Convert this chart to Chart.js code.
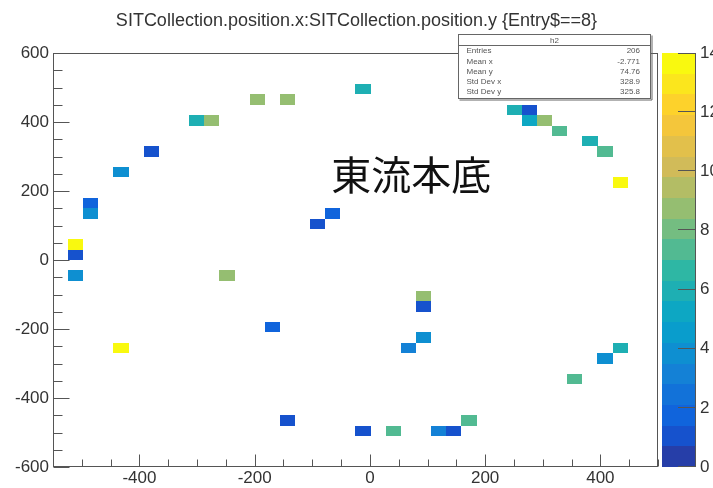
<!DOCTYPE html>
<html><head><meta charset="utf-8">
<script src="https://cdn.jsdelivr.net/npm/chart.js@4/dist/chart.umd.min.js"></script>
<style>html,body{margin:0;padding:0;background:#fff;overflow:hidden}#wrap{width:713px;height:488px}</style>
</head><body><div id="wrap"><canvas id="c" width="713" height="488"></canvas></div>
<script>
// ---- data (2D histogram, bin centres and counts) ----
const chartTitle = "SITCollection.position.x:SITCollection.position.y {Entry$==8}";
const overlayText = "東流本底";
const histName = "h2";
const cellX = [-510.6,-510.6,-510.6,-484.4,-484.4,-431.9,-379.4,-300.6,-274.4,-195.6,-143.1,-11.9,-90.6,-64.4,-248.1,
               250.6,276.9,276.9,303.1,329.4,381.9,408.1,434.4,93.1,93.1,93.1,66.9,-169.4,-431.9,-143.1,434.4,408.1,355.6,
               -11.9,40.6,119.4,145.6,171.9];
const cellY = [45,15,-45,165,135,255,315,405,405,465,465,495,105,135,-45,
               435,435,405,405,375,345,315,225,-105,-135,-225,-255,-195,-255,-465,-255,-285,-345,
               -495,-495,-495,-495,-465];
const cellCount = [14,1,4,2,4,4,1,6,9,9,9,6,1,2,9,
                   6,1,5,9,7,6,7,14,9,1,4,3,2,14,1,6,4,7,
                   1,7,3,1,7];
const xTickValues = [-400,-200,0,200,400];
const yTickValues = [-600,-400,-200,0,200,400,600];
const zTickValues = [0,2,4,6,8,10,12,14];
const statsLabels = ["Entries","Mean x","Mean y","Std Dev x","Std Dev y"];
const statsValues = ["206","-2.771","74.76","328.9","325.8"];
// histogram binning / axis ranges
const xRange = [-550, 500], yRange = [-600, 600], zRange = [0, 14];
const nBinsX = 40, nBinsY = 40, nContours = 20, minorStep = 50;

// ---- ROOT kBird palette ----
const stops = [0.0,0.125,0.25,0.375,0.5,0.625,0.75,0.875,1.0];
const pr = [0.2082,0.0592,0.0780,0.0232,0.1802,0.5301,0.8186,0.9956,0.9764];
const pg = [0.1664,0.3599,0.5041,0.6419,0.7178,0.7492,0.7328,0.7862,0.9832];
const pb = [0.5293,0.8684,0.8385,0.7914,0.6425,0.4662,0.3499,0.1968,0.0539];
const NCOL = 255;
function paletteColor(p){
  for(let g=1; g<stops.length; g++){
    const lo=Math.floor(NCOL*stops[g-1]), hi=Math.floor(NCOL*stops[g]);
    if(p<hi || g===stops.length-1){
      const f=(p-lo)/(hi-lo);
      const r=pr[g-1]+f*(pr[g]-pr[g-1]), gg=pg[g-1]+f*(pg[g]-pg[g-1]), b=pb[g-1]+f*(pb[g]-pb[g-1]);
      return `rgb(${Math.round(r*255)},${Math.round(gg*255)},${Math.round(b*255)})`;
    }
  }
}
function bandColor(k){
  let idx=Math.floor((k+0.99)*NCOL/nContours);
  if(idx>NCOL-1) idx=NCOL-1;
  return paletteColor(idx);
}
function valueColor(v){
  const k=Math.floor(0.01+(v-zRange[0])*nContours/(zRange[1]-zRange[0]));
  return bandColor(k);
}

const FONT = "'Liberation Sans', Arial, Helvetica, sans-serif";
const AX = '#555';
const bw = (xRange[1]-xRange[0])/nBinsX, bh = (yRange[1]-yRange[0])/nBinsY;

const rootPlugin = {
  id:'rootLook',
  beforeDatasetsDraw(chart){
    const {ctx, scales:{x,y}} = chart;
    ctx.save();
    for(let i=0;i<cellX.length;i++){
      const x0=Math.round(x.getPixelForValue(cellX[i]-bw/2)), x1=Math.round(x.getPixelForValue(cellX[i]+bw/2));
      const y0=Math.round(y.getPixelForValue(cellY[i]+bh/2)), y1=Math.round(y.getPixelForValue(cellY[i]-bh/2));
      ctx.fillStyle=valueColor(cellCount[i]);
      ctx.fillRect(x0,y0,x1-x0,y1-y0);
    }
    ctx.restore();
  },
  afterDraw(chart){
    const {ctx, chartArea:a, scales:{x,y,z}} = chart;
    ctx.save();
    // overlay text in data coordinates
    ctx.fillStyle='#111';
    ctx.font="40px 'Noto Sans CJK JP', 'Noto Sans CJK TC', sans-serif";
    ctx.textBaseline='middle'; ctx.textAlign='left';
    ctx.fillText(overlayText, x.getPixelForValue(-67), y.getPixelForValue(248));
    // frame
    ctx.strokeStyle=AX; ctx.lineWidth=1;
    const L=Math.round(a.left)+0.5, R=Math.round(a.right)-0.5, T=Math.round(a.top)+0.5, B=Math.round(a.bottom)-0.5;
    ctx.strokeRect(L,T,R-L,B-T);
    ctx.beginPath();
    for(let v=xRange[0]; v<=xRange[1]; v+=minorStep){
      const px=Math.round(x.getPixelForValue(v))+0.5;
      const len = xTickValues.includes(v)?12:7;
      ctx.moveTo(px,B); ctx.lineTo(px,B-len);
    }
    for(let v=yRange[0]; v<=yRange[1]; v+=minorStep){
      const py=Math.round(y.getPixelForValue(v))+0.5;
      const len = yTickValues.includes(v)?16:9;
      ctx.moveTo(L,py); ctx.lineTo(L+len,py);
    }
    ctx.stroke();
    // colour bar
    const cbL=Math.round(a.right)+4, cbR=Math.round(a.right)+38;
    const dz=(zRange[1]-zRange[0])/nContours;
    for(let k=0;k<nContours;k++){
      const p0=Math.round(z.getPixelForValue(zRange[0]+k*dz)), p1=Math.round(z.getPixelForValue(zRange[0]+(k+1)*dz));
      ctx.fillStyle=bandColor(k);
      ctx.fillRect(cbL,p1,cbR-cbL,p0-p1);
    }
    ctx.strokeStyle=AX;
    ctx.beginPath();
    ctx.moveTo(cbR-0.5, Math.round(z.getPixelForValue(zRange[0]))); ctx.lineTo(cbR-0.5, Math.round(z.getPixelForValue(zRange[1])));
    for(const v of zTickValues){
      const py=Math.round(z.getPixelForValue(v))+(v===zRange[1]?0.5:-0.5);
      ctx.moveTo(cbR,py); ctx.lineTo(cbR-18,py);
    }
    ctx.stroke();
    // stats box
    const sx0=458.5, sx1=650.5, sy0=34.5, sy1=98.5;
    ctx.fillStyle='#fff'; ctx.fillRect(sx0,sy0,sx1-sx0,sy1-sy0);
    ctx.strokeStyle='#666'; ctx.strokeRect(sx0,sy0,sx1-sx0,sy1-sy0);
    ctx.beginPath(); ctx.moveTo(sx0+1,sy1+1.5); ctx.lineTo(sx1+1.5,sy1+1.5); ctx.lineTo(sx1+1.5,sy0+1); ctx.stroke();
    ctx.beginPath(); ctx.moveTo(sx0,45.5); ctx.lineTo(sx1,45.5); ctx.stroke();
    ctx.fillStyle='#555'; ctx.font="8px "+FONT; ctx.textBaseline='middle';
    ctx.textAlign='center'; ctx.fillText(histName,(sx0+sx1)/2,40.5);
    for(let i=0;i<statsLabels.length;i++){
      const yy=51+i*10.3;
      ctx.textAlign='left'; ctx.fillText(statsLabels[i],466.5,yy);
      ctx.textAlign='right'; ctx.fillText(statsValues[i],640,yy);
    }
    ctx.restore();
  }
};

const tickFont = {family:FONT, size:17};
new Chart(document.getElementById('c'), {
  type:'scatter',
  data:{datasets:[{data:cellX.map((v,i)=>({x:v,y:cellY[i],count:cellCount[i]})), pointRadius:0, pointHoverRadius:0}]},
  options:{
    responsive:false, animation:false, devicePixelRatio:1,
    layout:{padding:0},
    plugins:{
      legend:{display:false}, tooltip:{enabled:false},
      title:{display:true, text:chartTitle, color:'#333', font:{family:FONT, size:18, weight:'normal'}, padding:{top:10,bottom:21.5}}
    },
    scales:{
      x:{type:'linear', min:xRange[0], max:xRange[1], grid:{display:false, drawTicks:false}, border:{display:false},
         ticks:{font:tickFont, color:'#333', padding:1, maxRotation:0},
         afterBuildTicks:s=>{s.ticks=xTickValues.map(v=>({value:v}));},
         afterFit:s=>{s.height=21;}},
      y:{type:'linear', min:yRange[0], max:yRange[1], grid:{display:false, drawTicks:false}, border:{display:false},
         ticks:{font:tickFont, color:'#333', padding:4},
         afterBuildTicks:s=>{s.ticks=yTickValues.map(v=>({value:v}));},
         afterFit:s=>{s.width=53;}},
      z:{type:'linear', position:'right', min:zRange[0], max:zRange[1], grid:{display:false, drawTicks:false}, border:{display:false},
         ticks:{font:tickFont, color:'#333', padding:42},
         afterBuildTicks:s=>{s.ticks=zTickValues.map(v=>({value:v}));},
         afterFit:s=>{s.width=55; s.paddingTop=0; s.paddingBottom=0;}}
    }
  },
  plugins:[rootPlugin]
});
</script></body></html>
